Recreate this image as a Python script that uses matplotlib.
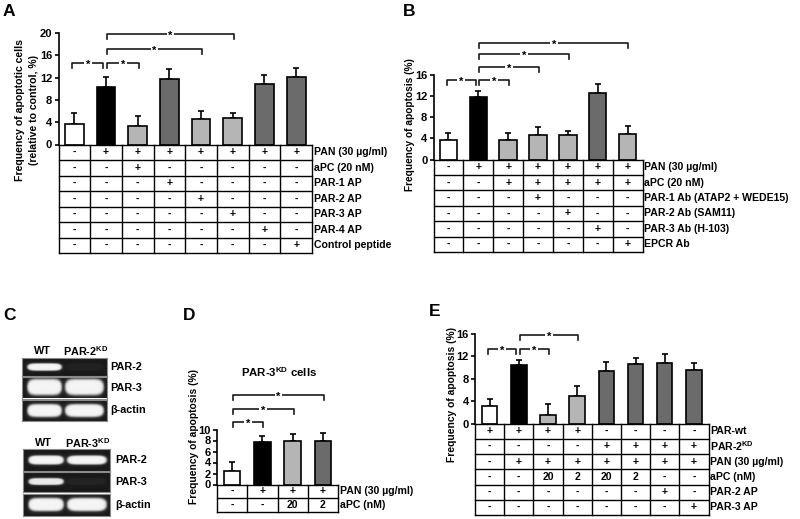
import numpy as np
import matplotlib
matplotlib.use("Agg")
import matplotlib.pyplot as plt
from matplotlib import transforms

plt.rcParams['font.family'] = ['Liberation Sans', 'DejaVu Sans']
plt.rcParams['font.weight'] = 'bold'
plt.rcParams['mathtext.fontset'] = 'custom'
plt.rcParams['mathtext.rm'] = 'Liberation Sans:bold'
plt.rcParams['mathtext.bf'] = 'Liberation Sans:bold'

# ---------------- data ----------------
WHITE, BLACK, LIGHT, DARK = 'white', 'black', '#b5b5b5', '#6b6b6b'

A_vals = [3.6, 10.3, 3.4, 11.8, 4.5, 4.7, 10.8, 12.1]
A_err = [2.0, 1.8, 1.8, 1.8, 1.5, 0.9, 1.6, 1.6]
A_colors = [WHITE, BLACK, LIGHT, DARK, LIGHT, LIGHT, DARK, DARK]
A_labels = ['PAN (30 µg/ml)', 'aPC (20 nM)', 'PAR-1 AP', 'PAR-2 AP', 'PAR-3 AP',
            'PAR-4 AP', 'Control peptide']
A_table = [['-', '+', '+', '+', '+', '+', '+', '+'],
           ['-', '-', '+', '-', '-', '-', '-', '-'],
           ['-', '-', '-', '+', '-', '-', '-', '-'],
           ['-', '-', '-', '-', '+', '-', '-', '-'],
           ['-', '-', '-', '-', '-', '+', '-', '-'],
           ['-', '-', '-', '-', '-', '-', '+', '-'],
           ['-', '-', '-', '-', '-', '-', '-', '+']]
A_brackets = [(0, 1, 14.65), (1, 2, 14.65), (1, 4, 17.1), (1, 5, 19.8)]

B_vals = [3.6, 11.8, 3.6, 4.6, 4.6, 12.6, 4.8]
B_err = [1.4, 1.1, 1.4, 1.5, 0.8, 1.7, 1.5]
B_colors = [WHITE, BLACK, LIGHT, LIGHT, LIGHT, DARK, LIGHT]
B_labels = ['PAN (30 µg/ml)', 'aPC (20 nM)', 'PAR-1 Ab (ATAP2 + WEDE15)',
            'PAR-2 Ab (SAM11)', 'PAR-3 Ab (H-103)', 'EPCR Ab']
B_table = [['-', '+', '+', '+', '+', '+', '+'],
           ['-', '-', '+', '+', '+', '+', '+'],
           ['-', '-', '-', '+', '-', '-', '-'],
           ['-', '-', '-', '-', '+', '-', '-'],
           ['-', '-', '-', '-', '-', '+', '-'],
           ['-', '-', '-', '-', '-', '-', '+']]
B_brackets = [(0, 1, 15.05), (1, 2, 15.05), (1, 3, 17.5), (1, 4, 20.0), (1, 6, 22.15)]

D_vals = [2.4, 7.7, 8.0, 7.9]
D_err = [1.7, 1.1, 1.1, 1.55]
D_colors = [WHITE, BLACK, LIGHT, DARK]
D_labels = ['PAN (30 µg/ml)', 'aPC (nM)']
D_table = [['-', '+', '+', '+'],
           ['-', '-', '20', '2']]
D_brackets = [(0, 1, 11.4), (0, 2, 13.8), (0, 3, 16.3)]

E_vals = [3.1, 10.45, 1.6, 4.95, 9.4, 10.7, 10.8, 9.5]
E_err = [1.2, 0.85, 1.8, 1.8, 1.6, 1.05, 1.7, 1.25]
E_colors = [WHITE, BLACK, LIGHT, LIGHT, DARK, DARK, DARK, DARK]
E_labels = ['PAR-wt', r'PAR-2$^{\mathbf{KD}}$', 'PAN (30 µg/ml)', 'aPC (nM)',
            'PAR-2 AP', 'PAR-3 AP']
E_table = [['+', '+', '+', '+', '-', '-', '-', '-'],
           ['-', '-', '-', '-', '+', '+', '+', '+'],
           ['-', '+', '+', '+', '+', '+', '+', '+'],
           ['-', '-', '20', '2', '20', '2', '-', '-'],
           ['-', '-', '-', '-', '-', '-', '+', '-'],
           ['-', '-', '-', '-', '-', '-', '-', '+']]
E_brackets = [(0, 1, 13.3), (1, 2, 13.3), (1, 3, 15.8)]

# gel band intensities (lane WT, lane KD)
gel1_rows = ['PAR-2', 'PAR-3', 'β-actin']
gel1_bands = [[1.0, 0.04], [1.0, 1.0], [1.0, 1.0]]
gel2_rows = ['PAR-2', 'PAR-3', 'β-actin']
gel2_bands = [[1.0, 1.0], [0.95, 0.05], [1.0, 1.0]]

# ---------------- layout helpers ----------------
W, H = 800, 519
fig = plt.figure(figsize=(8, 5.19), dpi=100)


def fx(x):
    return x / W


def fy(y):
    return 1 - y / H


def bar_panel(x0, x1, yzero, ytop, ymax, step, vals, errs, colors, width):
    ax = fig.add_axes([fx(x0), fy(yzero), (x1 - x0) / W, (yzero - ytop) / H])
    n = len(vals)
    xs = np.arange(n)
    ax.bar(xs, vals, width=width, color=colors, edgecolor='black', linewidth=1.2, zorder=3)
    ax.errorbar(xs, vals, yerr=[np.zeros(n), errs], fmt='none', ecolor='black',
                elinewidth=1.2, capsize=2.2, capthick=1.2, zorder=2)
    ax.set_xlim(-0.5, n - 0.5)
    ax.set_ylim(0, ymax)
    ax.set_yticks(np.arange(0, ymax + 0.01, step))
    ax.set_yticklabels([f'{int(v)}' for v in np.arange(0, ymax + 0.01, step)])
    for s in ['top', 'right', 'bottom']:
        ax.spines[s].set_visible(False)
    ax.spines['left'].set_linewidth(1.2)
    ax.set_xticks([])
    ax.tick_params(axis='y', length=3, width=1.2, pad=1.5, labelsize=8)
    for t in ax.get_yticklabels():
        t.set_fontweight('bold')
    ax.patch.set_alpha(0)
    ax._ppu = (yzero - ytop) / ymax
    return ax


def draw_table(ax, table, labels, row_px, fontsize=7.5, label_fs=7.6):
    nrow = len(table)
    ncol = len(table[0])
    rh = row_px / ax._ppu
    kw = dict(color='black', lw=1.0, clip_on=False, zorder=4)
    for r in range(nrow + 1):
        ax.plot([-0.5, ncol - 0.5], [-r * rh, -r * rh], **kw)
    for c in range(ncol + 1):
        ax.plot([c - 0.5, c - 0.5], [0, -nrow * rh], **kw)
    for r, row in enumerate(table):
        yc = -(r + 0.5) * rh
        for c, s in enumerate(row):
            ax.text(c, yc, s, ha='center', va='center', fontsize=fontsize,
                    fontweight='bold', clip_on=False)
        ax.text(ncol - 0.5 + 0.06, yc, labels[r], ha='left', va='center',
                fontsize=label_fs, fontweight='bold', clip_on=False)


def draw_brackets(ax, brackets, ref, tick_px=5, fs=8):
    tk = tick_px / ax._ppu
    for i, j, lev in brackets:
        xa = i + (0.03 if i == ref else -0.06)
        xb = j + (-0.08 if j == ref else 0.03)
        ax.plot([xa, xa, xb, xb], [lev - tk, lev, lev, lev - tk], color='#1a1a1a',
                lw=1.2, clip_on=False, zorder=4)
        tr = transforms.offset_copy(ax.transData, fig=fig, x=0, y=-1.5, units='points')
        ax.text((xa + xb) / 2, lev, '*', ha='center', va='center', fontsize=fs,
                fontweight='bold', transform=tr, clip_on=False, zorder=5,
                bbox=dict(facecolor='white', edgecolor='none', pad=1.2))


# ---------------- Panel A ----------------
axA = bar_panel(58.5, 312, 144.5, 33, 20, 4, A_vals, A_err, A_colors, 0.59)
draw_table(axA, A_table, A_labels, 15.5)
draw_brackets(axA, A_brackets, 1)
fig.text(fx(20), fy(110), 'Frequency of apoptotic cells', rotation=90, ha='center',
         va='center', fontsize=7.6, fontweight='bold')
fig.text(fx(34), fy(110), '(relative to control, %)', rotation=90, ha='center',
         va='center', fontsize=7.6, fontweight='bold')

# ---------------- Panel B ----------------
axB = bar_panel(433.5, 642.5, 159.5, 75, 16, 4, B_vals, B_err, B_colors, 0.585)
draw_table(axB, B_table, B_labels, 15.4)
draw_brackets(axB, B_brackets, 1)
fig.text(fx(410), fy(125), 'Frequency of apoptosis (%)', rotation=90, ha='center',
         va='center', fontsize=7.3, fontweight='bold')

# ---------------- Panel D ----------------
axD = bar_panel(217, 338, 484.5, 429.5, 10, 2, D_vals, D_err, D_colors, 0.54)
draw_table(axD, D_table, D_labels, 13.6)
draw_brackets(axD, D_brackets, 0)
fig.text(fx(194), fy(437), 'Frequency of apoptosis (%)', rotation=90, ha='center',
         va='center', fontsize=7.4, fontweight='bold')
fig.text(fx(279), fy(372), r'PAR-3$^{\mathbf{KD}}$ cells', ha='center', va='center',
         fontsize=8.2, fontweight='bold')

# ---------------- Panel E ----------------
axE = bar_panel(475, 708.5, 423.5, 334, 16, 4, E_vals, E_err, E_colors, 0.53)
draw_table(axE, E_table, E_labels, 15.25)
draw_brackets(axE, E_brackets, 1)
fig.text(fx(452), fy(394), 'Frequency of apoptosis (%)', rotation=90, ha='center',
         va='center', fontsize=7.4, fontweight='bold')

# ---------------- Panel C (gels) ----------------


def gel_strip(x0, x1, y0, y1, intens, band_h, label, label_x):
    ax = fig.add_axes([fx(x0), fy(y1), (x1 - x0) / W, (y1 - y0) / H])
    w = int((x1 - x0) * 4)
    h = int((y1 - y0) * 4)
    xx, yy = np.meshgrid(np.linspace(0, 1, w), np.linspace(0, 1, h))
    img = np.full((h, w), 0.1)
    centers = [0.265, 0.735]
    halfw = [0.2, 0.225]
    for cx, hw, inten in zip(centers, halfw, intens):
        d = np.abs((xx - cx) / hw) ** 6 + np.abs((yy - 0.5) / band_h) ** 2.2
        core = 1 / (1 + np.exp((d - 1) * 7))
        glow = np.exp(-np.clip(d - 1, 0, None) * 1.6) * (d > 1)
        img = img + inten * (0.86 * core + 0.22 * glow)
    ax.imshow(np.clip(img, 0, 1), cmap='gray', vmin=0, vmax=1, aspect='auto',
              interpolation='bilinear')
    ax.set_xticks([])
    ax.set_yticks([])
    for s in ax.spines.values():
        s.set_edgecolor('#8a8a8a')
        s.set_linewidth(0.8)
    fig.text(fx(label_x), fy((y0 + y1) / 2), label, ha='left', va='center',
             fontsize=7.8, fontweight='bold')


g1_rows_px = [(358, 376), (377, 398.5), (400, 420.5)]
g1_bh = [0.2, 0.36, 0.3]
for (ya, yb), lab, inten, bh in zip(g1_rows_px, gel1_rows, gel1_bands, g1_bh):
    gel_strip(21.5, 106.5, ya, yb, inten, bh, lab, 110)

g2_rows_px = [(449, 470.5), (471.5, 492), (493.5, 516)]
g2_bh = [0.2, 0.16, 0.28]
for (ya, yb), lab, inten, bh in zip(g2_rows_px, gel2_rows, gel2_bands, g2_bh):
    gel_strip(22.5, 109.5, ya, yb, inten, bh, lab, 115)

fig.text(fx(42.5), fy(351.5), 'WT', ha='center', va='center', fontsize=7.8, fontweight='bold')
fig.text(fx(63), fy(351.5), r'PAR-2$^{\mathbf{KD}}$', ha='left', va='center', fontsize=7.8,
         fontweight='bold')
fig.text(fx(43), fy(443), 'WT', ha='center', va='center', fontsize=7.8, fontweight='bold')
fig.text(fx(65), fy(443), r'PAR-3$^{\mathbf{KD}}$', ha='left', va='center', fontsize=7.8,
         fontweight='bold')

# ---------------- panel letters ----------------
for lab, x, y in [('A', 3, 12), ('B', 403, 12), ('C', 3, 316), ('D', 183, 316), ('E', 429, 312)]:
    fig.text(fx(x), fy(y), lab, ha='left', va='center', fontsize=12.5, fontweight='bold')

fig.savefig('out.png', dpi=100, facecolor='white')
